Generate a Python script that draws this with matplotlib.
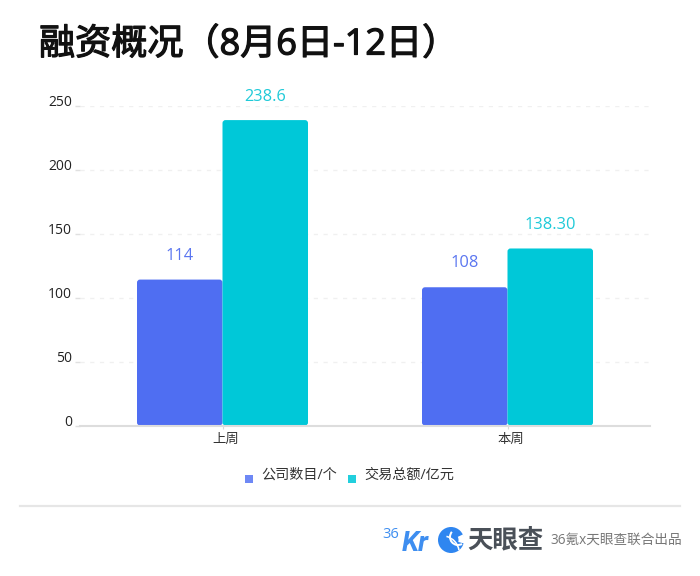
#!/usr/bin/env python3
import numpy as np
import matplotlib
matplotlib.use('Agg')
import matplotlib.pyplot as plt
import matplotlib.patheffects as pe
from matplotlib.patches import FancyBboxPatch, Circle, Wedge, Rectangle
from matplotlib.lines import Line2D
from matplotlib.transforms import ScaledTranslation

plt.rcParams['font.family'] = ['Open Sans', 'Noto Sans CJK SC', 'DejaVu Sans']

categories = ['上周', '本周']
companies = [114, 108]
amounts = [238.6, 138.3]
company_labels = ['114', '108']
amount_labels = ['238.6', '138.30']
y_ticks = [0, 50, 100, 150, 200, 250]
legend_names = ['公司数目/个', '交易总额/亿元']

BLUE = '#4F6EF2'
TEAL = '#00C8D8'
LOGO = '#2F86F0'
W, H = 700, 576


def rounded_bars(ax, bars, color, radius_px):
    # swap the square bars for rounded ones, same size and place
    sx = ax.bbox.width / (ax.get_xlim()[1] - ax.get_xlim()[0])
    sy = ax.bbox.height / (ax.get_ylim()[1] - ax.get_ylim()[0])
    r = radius_px / sx
    for b in bars:
        b.set_visible(False)
        p = FancyBboxPatch((b.get_x() + r, r * sx / sy), b.get_width() - 2 * r,
                           b.get_height() - 2 * r * sx / sy,
                           boxstyle='round,pad={},rounding_size={}'.format(r, r),
                           mutation_aspect=sx / sy, fc=color, ec='none', zorder=3)
        ax.add_patch(p)


fig = plt.figure(figsize=(7, 5.76), dpi=100)
ax = fig.add_axes([80 / W, 1 - 425.5 / H, 570 / W, 320 / H])
ax.set_xlim(-0.5, 1.5)
ax.set_ylim(0, 250)

x = np.arange(len(categories))
width = 0.3
bars1 = ax.bar(x - width / 2, companies, width, color=BLUE)
bars2 = ax.bar(x + width / 2, amounts, width, color=TEAL)
rounded_bars(ax, bars1, BLUE, 3)
rounded_bars(ax, bars2, TEAL, 3)

for i in range(len(categories)):
    ax.annotate(company_labels[i], (x[i] - width / 2, companies[i]), xytext=(0, 11.5),
                textcoords='offset points', ha='center', va='bottom', color='#5B76F0', fontsize=11.8)
    ax.annotate(amount_labels[i], (x[i] + width / 2, amounts[i]), xytext=(0, 11),
                textcoords='offset points', ha='center', va='bottom', color='#1FCAD8', fontsize=11.8)

ax.set_xticks(x)
ax.set_xticklabels(categories, fontsize=9.6, color='#333333')
ax.set_yticks(y_ticks)
ax.tick_params(axis='y', length=3.6, width=1, color='#e0e0e0', labelsize=10, labelcolor='#222222', pad=2.3)
ax.tick_params(axis='x', length=2.5, width=0.8, color='#d8d8d8', pad=2.5)
# labels in the original sit a bit off their ticks
for t in ax.get_yticklabels():
    t.set_transform(t.get_transform() + ScaledTranslation(0, 5 / 100, fig.dpi_scale_trans))
for t in ax.get_xticklabels():
    t.set_transform(t.get_transform() + ScaledTranslation(3.5 / 100, 0, fig.dpi_scale_trans))
ax.grid(axis='y', color='#f0f0f0', linestyle=(0, (3, 4)), linewidth=1)
ax.set_axisbelow(True)
for s in ['top', 'right', 'left']:
    ax.spines[s].set_visible(False)
ax.spines['bottom'].set_color('#dddddd')
ax.spines['bottom'].set_linewidth(1.5)
ax.spines['bottom'].set_zorder(4)

# no medium weight available, thicken the regular one a little
title = fig.text(39 / W, 1 - 45.5 / H, '融资概况（8月6日-12日）', fontsize=26,
                 color='#111111', va='center', ha='left')
title.set_path_effects([pe.withStroke(linewidth=0.9, foreground='#111111')])

# pixel space overlay for legend and footer
ov = fig.add_axes([0, 0, 1, 1], facecolor='none')
ov.set_xlim(0, W)
ov.set_ylim(H, 0)
ov.axis('off')

ov.add_patch(Rectangle((245, 475), 8, 8, fc='#6E88F5', ec='none'))
ov.add_patch(Rectangle((348, 475), 8, 8, fc='#22CFDD', ec='none'))
ov.text(261.5, 475, legend_names[0], fontsize=10.2, color='#333333', va='center', ha='left')
ov.text(364.5, 475, legend_names[1], fontsize=10.2, color='#333333', va='center', ha='left')

fig.add_artist(Line2D([20 / W, 680 / W], [1 - 506 / H] * 2, color='#e6e6e6', lw=1.6))
ov.text(382.5, 534, '36', fontsize=10.5, color='#3E8EF0', va='center', ha='left')
ov.text(402, 551, 'Kr', fontsize=20, fontweight='bold', style='italic',
        color='#3E8EF0', va='baseline', ha='left', family='Roboto')

# swirl mark
ov.add_patch(Circle((451, 540), 13, fc=LOGO, ec='none'))
ov.add_patch(Wedge((458, 537), 9, 60, 220, width=2, fc='white', ec='none'))
ov.add_patch(Wedge((442, 553), 18, 285, 350, width=1.6, fc='white', ec='none'))
ov.add_patch(Wedge((451, 540), 13.5, -25, 15, width=6, fc='white', ec='none'))

ov.text(467, 539.5, '天眼查', fontsize=18.3, fontweight='bold', color='#4A5058',
        va='center', ha='left', family='Noto Sans CJK SC')
ov.text(550.5, 540, '36氪x天眼查联合出品', fontsize=9.85, color='#777777',
        va='center', ha='left')

fig.savefig('out.png', dpi=100)
